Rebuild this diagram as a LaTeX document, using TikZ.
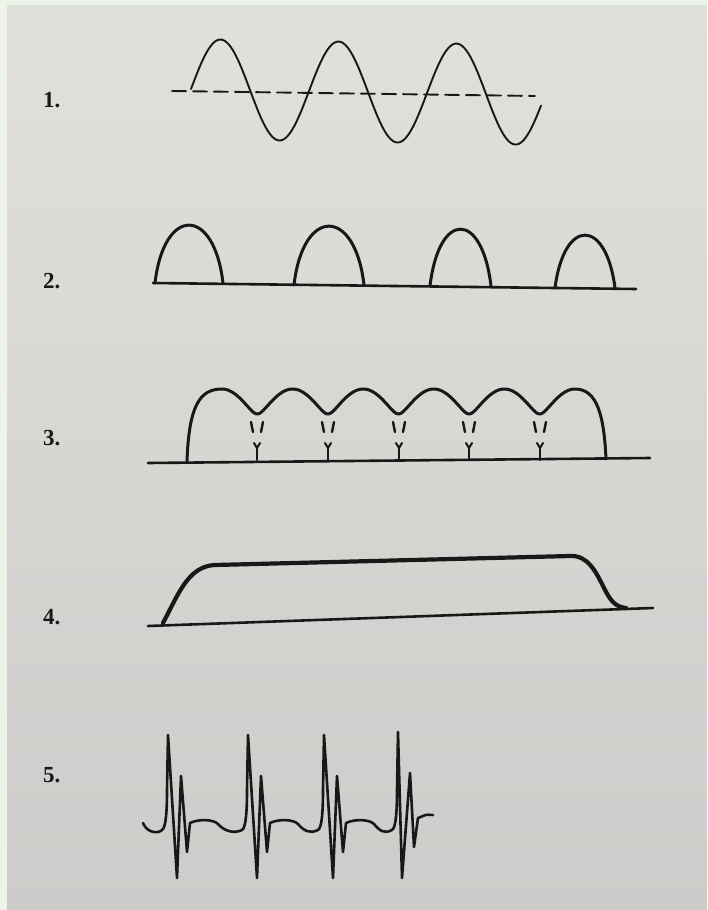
\documentclass[tikz,border=0pt]{standalone}
\usepackage{fontspec}
\setmainfont{Liberation Serif}
\usepackage{tikz}
\usetikzlibrary{calc}

\definecolor{ink}{RGB}{24,24,24}
\definecolor{margin}{RGB}{236,244,232}
\definecolor{papertop}{RGB}{224,224,220}
\definecolor{paperbot}{RGB}{206,204,202}

\begin{document}
\begin{tikzpicture}[
    x=1pt, y=-1pt,
    lab/.style={anchor=west, inner sep=0pt, font=\fontsize{23}{26}\selectfont\bfseries, text=ink},
    wave/.style={draw=ink, line width=1.9pt, line join=round, line cap=round},
    arch/.style={draw=ink, line width=3pt, line join=round, line cap=round},
    base/.style={draw=ink, line width=2.6pt, line cap=round},
    heavy/.style={draw=ink, line width=4.2pt, line join=round, line cap=round},
    ecg/.style={draw=ink, line width=2.6pt, line join=round, line cap=round}
]
\useasboundingbox (0,0) rectangle (707,910);

% page
\fill[margin] (0,0) rectangle (707,910);
\shade[top color=papertop, bottom color=paperbot] (7,5) rectangle (707,910);

% labels
\node[lab] (lab1) at (43,100) {1.};
\node[lab] (lab2) at (43,281) {2.};
\node[lab] (lab3) at (43,438) {3.};
\node[lab] (lab4) at (43,617) {4.};
\node[lab] (lab5) at (43,775) {5.};

% 1. sine wave
\draw[wave, dash pattern=on 14pt off 7pt] (172,91) -- (535,96);
\draw[wave] plot[domain=191:541, samples=160] (\x, {89+(\x-191)/350*6 - 50*sin((\x-191)/118*360)});

% 2. half wave
\draw[base] (153,283) -- (636,289);
\foreach \a/\b/\y/\t in {155/223/283/225, 294/364/285/226, 430/491/286/229, 555/615/288/235}
    \draw[arch] (\a,\y) .. controls ({\a+9},{\y-(\y-\t)*1.33}) and ({\b-9},{\y-(\y-\t)*1.33}) .. (\b,\y);

% 3. full wave with ripple
\draw[base] (148,463) -- (650,458);
\draw[arch] (187,461) .. controls (189,405) and (200,389) .. (222,389)
    -- plot[domain=222:575, samples=240] (\x, {414-25*(sqrt(cos((\x-222)/70.6*180)^2+0.06)-0.2449)/0.7847})
    .. controls (597,389) and (604,415) .. (606,459);
\foreach \v in {257,328,399,469,540} {
    \draw[arch, line width=2.4pt] ({\v-6},422) -- ({\v-4},432);
    \draw[arch, line width=2.4pt] ({\v+6},422) -- ({\v+4},432);
    \draw[arch, line width=2.4pt] (\v,460) -- (\v,447);
    \draw[arch, line width=2pt] ({\v-3},443) -- (\v,448) -- ({\v+3},443);
}

% 4. filtered dc
\draw[base] (148,626) -- (653,608);
\draw[heavy] (163,623) .. controls (178,595) and (188,566) .. (215,565) -- (570,556)
    .. controls (588,555) and (596,572) .. (604,588)
    .. controls (610,600) and (615,607) .. (626,608);

% 5. ecg
\draw[ecg] (143,823) .. controls (147,833) and (158,834) .. (162,830);
\foreach \s/\n in {168/248, 248/324, 324/398} {
    \draw[ecg] ({\s-6},830) .. controls ({\s-2},828) and ({\s-1},810) .. ({\s-1},790)
        -- (\s,735) -- ({\s+9},878) -- ({\s+13},776) -- ({\s+19},852) -- ({\s+22},823)
        .. controls ({\s+30},819) and ({\s+45},819) .. ({\s+50},824)
        .. controls ({\s+56},831) and ({\n-14},834) .. ({\n-6},830);
}
\draw[ecg] (392,830) .. controls (396,828) and (397,810) .. (397,790)
    -- (398,732) -- (402,878) -- (410,773) -- (414,847) -- (418,818)
    -- (423,816) .. controls (426,814) and (430,815) .. (433,815);

\end{tikzpicture}
\end{document}
